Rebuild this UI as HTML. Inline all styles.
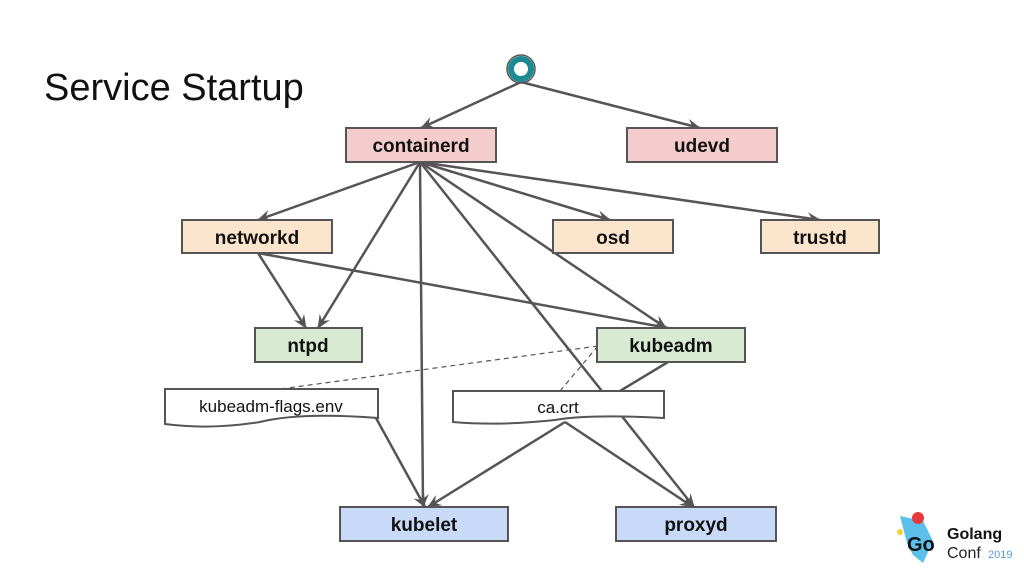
<!DOCTYPE html>
<html><head><style>
body{margin:0;width:1024px;height:576px;background:#fff;overflow:hidden}
svg{display:block}
text{font-family:"Liberation Sans",Arial,sans-serif}
.b{font-weight:bold;font-size:19px;fill:#111;text-anchor:middle}
</style></head><body>
<svg width="1024" height="576" viewBox="0 0 1024 576">
<defs><marker id="a" markerWidth="16" markerHeight="14" refX="13" refY="7" orient="auto" markerUnits="userSpaceOnUse"><path d="M0,1 L14,7 L0,13 L5,7z" fill="#555"/></marker></defs>
<text x="44" y="100" font-size="38" fill="#111">Service Startup</text>
<g stroke="#555" stroke-width="2.5" fill="none" marker-end="url(#a)">
<line x1="521" y1="82" x2="421" y2="128"/>
<line x1="521" y1="82" x2="700" y2="128"/>
<line x1="420" y1="162" x2="258" y2="220"/>
<line x1="420" y1="162" x2="318" y2="328"/>
<line x1="420" y1="162" x2="423" y2="507"/>
<line x1="420" y1="162" x2="694" y2="507"/>
<line x1="420" y1="162" x2="666" y2="328"/>
<line x1="420" y1="162" x2="610" y2="220"/>
<line x1="420" y1="162" x2="820" y2="220"/>
<line x1="258" y1="253" x2="306" y2="328"/>
<line x1="258" y1="253" x2="668" y2="328"/>
<line x1="376" y1="418" x2="425" y2="507"/>
<line x1="565" y1="422" x2="428" y2="507"/>
<line x1="565" y1="422" x2="693" y2="507"/>
</g>
<line x1="668" y1="362" x2="620" y2="391" stroke="#555" stroke-width="2.5"/>
<g stroke="#555" stroke-width="1.2" stroke-dasharray="5,4">
<line x1="598" y1="346" x2="280" y2="389"/>
<line x1="598" y1="346" x2="560" y2="391"/>
</g>
<circle cx="521" cy="69" r="10" fill="#fff" stroke="#1b8a93" stroke-width="6"/>
<circle cx="521" cy="69" r="14" fill="none" stroke="#555" stroke-width="1.5"/>
<g stroke="#555" stroke-width="2">
<rect x="346" y="128" width="150" height="34" fill="#f4cccc"/>
<rect x="627" y="128" width="150" height="34" fill="#f4cccc"/>
<rect x="182" y="220" width="150" height="33" fill="#fce5cd"/>
<rect x="553" y="220" width="120" height="33" fill="#fce5cd"/>
<rect x="761" y="220" width="118" height="33" fill="#fce5cd"/>
<rect x="255" y="328" width="107" height="34" fill="#d9ead3"/>
<rect x="597" y="328" width="148" height="34" fill="#d9ead3"/>
<rect x="340" y="507" width="168" height="34" fill="#c9daf8"/>
<rect x="616" y="507" width="160" height="34" fill="#c9daf8"/>
<path d="M165,389 H378 V418 Q300,412 260,422 Q210,430 165,424 Z" fill="#fff"/>
<path d="M453,391 H664 V418 Q590,414 555,420 Q500,426 453,422 Z" fill="#fff"/>
</g>
<text class="b" x="421" y="152">containerd</text>
<text class="b" x="702" y="152">udevd</text>
<text class="b" x="257" y="244">networkd</text>
<text class="b" x="613" y="244">osd</text>
<text class="b" x="820" y="244">trustd</text>
<text class="b" x="308" y="352">ntpd</text>
<text class="b" x="671" y="352">kubeadm</text>
<text class="b" x="424" y="531">kubelet</text>
<text class="b" x="696" y="531">proxyd</text>
<text x="271" y="412" font-size="17" text-anchor="middle" fill="#111">kubeadm-flags.env</text>
<text x="558" y="413" font-size="17" text-anchor="middle" fill="#111">ca.crt</text>
<g transform="translate(897,513)">
<path d="M3,3 L26,8 L36,28 L26,50 L16,42 L10,30 Z" fill="#5bc0eb"/>
<circle cx="21" cy="5" r="6" fill="#e8383d"/>
<circle cx="3" cy="19" r="3" fill="#f5d033"/>
<text x="10" y="38" font-size="20" font-weight="bold" fill="#111">Go</text>
<text x="50" y="26" font-size="16" font-weight="bold" fill="#111">Golang</text>
<text x="50" y="45" font-size="16" fill="#222">Conf</text>
<text x="91" y="45" font-size="11" fill="#5b9bd5">2019</text>
</g>
</svg>
</body></html>
